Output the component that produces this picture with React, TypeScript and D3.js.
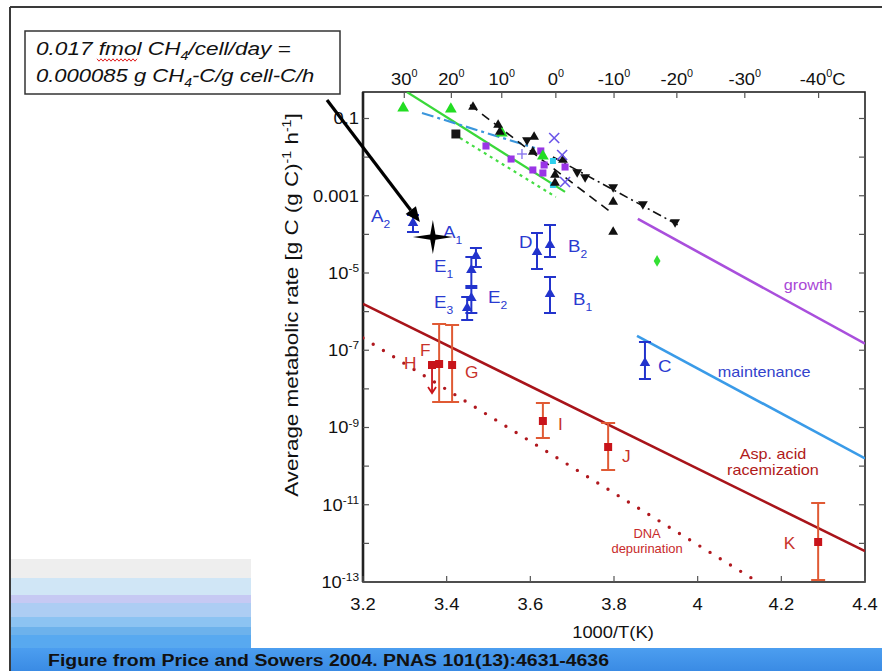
import React from 'react';
import * as d3 from 'd3';

const FONT = '"Liberation Sans", Arial, Helvetica, sans-serif';
const W = 882;
const H = 671;

// ---- axes ----
const xTicks = [3.2, 3.4, 3.6, 3.8, 4.0, 4.2, 4.4];
const xTickLabels = ['3.2', '3.4', '3.6', '3.8', '4', '4.2', '4.4'];
const yTickExponents = d3.range(-13, 0);
const yLabelExponents = [-1, -3, -5, -7, -9, -11, -13];
const celsiusTicks = [30, 20, 10, 0, -10, -20, -30, -40];

// ---- trend lines: [1000/T, log10 rate] ----
const growthLine = [[3.857, -3.6], [4.4, -6.83]];
const maintenanceLine = [[3.855, -6.63], [4.4, -9.8]];
const racemizationLine = [[3.2, -5.8], [4.4, -12.2]];
const depurinationLine = [[3.2, -6.68], [4.144, -13]];
const greenFitLine = [[3.305, -0.314], [3.683, -2.9]];
const greenDottedLine = [[3.432, -1.505], [3.661, -3.032]];
const blueDashDotLine = [[3.341, -0.858], [3.611, -1.764]];
const blackDashedLine = [[3.456, -0.65], [3.795, -3.447]];
const blackDashDotLine = [[3.654, -1.997], [3.953, -3.757]];

// ---- scattered measurements: [1000/T, log10 rate] ----
const greenTriangles = [[3.296, -0.728], [3.41, -0.754], [3.532, -1.376], [3.63, -1.971]];
const blackSquares = [[3.422, -1.401]];
const blackUpTriangles = [
  [3.463, -0.702], [3.523, -1.168], [3.527, -1.35], [3.609, -1.479], [3.606, -1.867],
  [3.659, -2.463], [3.659, -2.67], [3.678, -2.074], [3.798, -3.162], [3.798, -3.939],
];
const blackDownTriangles = [
  [3.592, -1.557], [3.712, -2.385], [3.731, -2.515], [3.798, -2.773], [3.869, -3.214], [3.946, -3.68],
];
const purpleSquares = [
  [3.494, -1.712], [3.554, -2.049], [3.606, -2.333], [3.625, -1.841], [3.633, -2.204],
  [3.63, -2.411], [3.683, -2.256],
];
const cyanSquares = [[3.654, -2.1], [3.654, -2.722]];
const violetCrosses = [[3.657, -1.505], [3.676, -1.945], [3.683, -2.644]];
const violetPluses = [[3.58, -1.919]];
const greenDiamonds = [[3.903, -4.689]];

// ---- points with error bars: [1000/T, log rate, log low, log high] ----
const bluePoints = [
  [3.3195, -3.706, -3.939, -3.498], // A2
  [3.47, -4.56, -4.845, -4.353], // E1 (upper)
  [3.459, -4.922, -5.336, -4.586], // E1
  [3.459, -5.647, -6.036, -5.388], // E2
  [3.449, -5.906, -6.217, -5.622], // E3
  [3.616, -4.456, -4.896, -3.964], // D
  [3.647, -4.275, -4.586, -3.757], // B2
  [3.647, -5.544, -6.036, -5.103], // B1
  [3.874, -7.33, -7.744, -6.786], // C
];
const redPoints = [
  [3.382, -7.356, -8.34, -6.32], // F
  [3.413, -7.382, -8.34, -6.346], // G
  [3.63, -8.832, -9.272, -8.366], // I
  [3.786, -9.505, -10.1, -8.884], // J
  [4.288, -11.964, -12.948, -10.955], // K
];
// upper limit: [1000/T, log rate, arrow end]
const upperLimits = [[3.365, -7.382, -8.107]]; // H

// ---- point labels: [letter, subscript, 1000/T, log rate] ----
const blueLabels = [
  ['A', '2', 3.219, -3.68], ['A', '1', 3.391, -4.094], ['E', '1', 3.37, -4.974],
  ['E', '3', 3.37, -5.906], ['E', '2', 3.499, -5.777], ['D', '', 3.573, -4.353],
  ['B', '2', 3.69, -4.456], ['B', '1', 3.702, -5.829], ['C', '', 3.905, -7.563],
];
const redLabels = [
  ['F', 3.336, -7.149], ['H', 3.298, -7.485], ['G', 3.444, -7.718],
  ['I', 3.666, -9.065], ['J', 3.819, -9.893], ['K', 4.206, -12.146],
];

// methane rate estimate (g CH4-C / g cell-C / h) at ~24 C
const starRate = 0.000085;
const starX = 3.367;

// ---- scales ----
const x = d3.scaleLinear().domain([3.2, 4.4]).range([363, 865]);
const y = d3.scaleLog().domain([1e-13, Math.pow(10, -0.314)]).range([582, 92]);
const yl = (l: number) => y(Math.pow(10, l));
const cToX = (c: number) => x(1000 / (c + 273.15));

const lineGen = d3.line<number[]>().x((d) => x(d[0])).y((d) => yl(d[1]));
const triUp = d3.symbol(d3.symbolTriangle, 42)()!;
const triBig = d3.symbol(d3.symbolTriangle, 60)()!;
const triBlue = d3.symbol(d3.symbolTriangle, 48)()!;
const sq = (s: number) => d3.symbol(d3.symbolSquare, s)()!;
const diamond = d3.symbol(d3.symbolDiamond, 40)()!;

function T(props: any) {
  const { x: tx, y: ty, sx = 1.08, anchor = 'start', size = 17, fill = '#111', children, ...rest } = props;
  return (
    <text
      transform={`translate(${tx},${ty}) scale(${sx},1)`}
      textAnchor={anchor}
      fontSize={size}
      fill={fill}
      fontFamily={FONT}
      {...rest}
    >
      {children}
    </text>
  );
}

function wavy(x0: number, x1: number, y0: number) {
  const pts: [number, number][] = [];
  let up = true;
  for (let px = x0; px <= x1; px += 2) {
    pts.push([px, y0 + (up ? -1.2 : 1.2)]);
    up = !up;
  }
  return d3.line()(pts)!;
}

export default function App() {
  const left = 363, right = 865, top = 92, bottom = 582;

  // star & arrow geometry
  const sx0 = x(starX);
  const sy0 = y(starRate);
  const tip = [sx0 - 13, sy0 - 15];
  const start = [327, 100];
  const ang = Math.atan2(tip[1] - start[1], tip[0] - start[0]);
  const ah = 15, aw = 6.5;
  const base = [tip[0] - ah * Math.cos(ang), tip[1] - ah * Math.sin(ang)];
  const head = [
    tip,
    [base[0] + aw * Math.sin(ang), base[1] - aw * Math.cos(ang)],
    [base[0] - aw * Math.sin(ang), base[1] + aw * Math.cos(ang)],
  ];
  const starPath = 'M0,-17 L2.6,-2.6 L20,0 L2.6,2.6 L0,17 L-2.6,2.6 L-20,0 L-2.6,-2.6 Z';

  const stripes = [
    [559, 578, '#eeeeee'],
    [578, 595, '#d0e6f6'],
    [595, 603, '#c6c9f3'],
    [603, 617, '#adcdf3'],
    [617, 627, '#8cc3f2'],
    [627, 635, '#6db2ec'],
    [635, 648, '#58a9f0'],
  ];

  return (
    <svg width={W} height={H} viewBox={`0 0 ${W} ${H}`} style={{ position: 'absolute', left: 0, top: 0, background: '#fff' }}>
      <defs>
        <clipPath id="plotClip">
          <rect x={left} y={top} width={right - left} height={bottom - top} />
        </clipPath>
        <linearGradient id="footerGrad" x1="0" y1="0" x2="0" y2="1">
          <stop offset="0" stopColor="#4c9ef0" />
          <stop offset="1" stopColor="#3a8be4" />
        </linearGradient>
      </defs>
      <rect x={0} y={0} width={W} height={H} fill="#fff" />

      {/* slide decoration */}
      {stripes.map((s, i) => (
        <rect key={i} x={11} y={s[0] as number} width={240} height={(s[1] as number) - (s[0] as number)} fill={s[2] as string} />
      ))}
      <rect x={10} y={648} width={W - 10} height={H - 648} fill="url(#footerGrad)" />
      <line x1={10} y1={7} x2={W} y2={7} stroke="#3a3a3a" strokeWidth={2} />
      <line x1={10} y1={7} x2={10} y2={H} stroke="#3a3a3a" strokeWidth={2} />
      <text x={48} y={666} fontSize={16} fontWeight="bold" fontFamily={FONT} fill="#111" textLength={561} lengthAdjust="spacingAndGlyphs">
        Figure from Price and Sowers 2004. PNAS 101(13):4631-4636
      </text>

      {/* conversion note */}
      <rect x={25} y={31} width={315} height={63} fill="#fff" stroke="#333" strokeWidth={1.5} />
      <T x={36} y={55} size={19} sx={1.19} fontStyle="italic">
        0.017 fmol CH<tspan fontSize={12} dy={5}>4</tspan>
        <tspan dy={-5}>/cell/day =</tspan>
      </T>
      <path d={wavy(97, 137, 60)} fill="none" stroke="#e02020" strokeWidth={1} />
      <T x={36} y={82} size={19} sx={1.16} fontStyle="italic">
        0.000085 g CH<tspan fontSize={12} dy={5}>4</tspan>
        <tspan dy={-5}>-C/g cell-C/h</tspan>
      </T>

      {/* frame & ticks */}
      <rect x={left} y={top} width={right - left} height={bottom - top} fill="none" stroke="#222" strokeWidth={1.6} />
      <line x1={left} y1={top} x2={left} y2={bottom} stroke="#222" strokeWidth={2.6} />
      {yTickExponents.map((e) => (
        <g key={e} stroke="#555" strokeWidth={1.2}>
          <line x1={left} x2={left + 6} y1={yl(e)} y2={yl(e)} />
          <line x1={right} x2={right - 6} y1={yl(e)} y2={yl(e)} />
        </g>
      ))}
      {xTicks.map((t) => (
        <line key={t} x1={x(t)} x2={x(t)} y1={bottom} y2={bottom - 6} stroke="#555" strokeWidth={1.2} />
      ))}
      {celsiusTicks.map((c) => (
        <line key={c} x1={cToX(c)} x2={cToX(c)} y1={top} y2={top + 6} stroke="#555" strokeWidth={1.2} />
      ))}

      {/* tick labels */}
      {yLabelExponents.map((e) => (
        <T key={e} x={359} y={yl(e) + 6} anchor="end">
          {e === -1 ? '0.1' : e === -3 ? '0.001' : (
            <>
              10<tspan fontSize={11} dy={-7}>{String(e)}</tspan>
            </>
          )}
        </T>
      ))}
      {xTicks.map((t, i) => (
        <T key={t} x={x(t)} y={610} anchor="middle">{xTickLabels[i]}</T>
      ))}
      {celsiusTicks.map((c, i) => (
        <T key={c} x={cToX(c) + (i === celsiusTicks.length - 1 ? 4 : 0)} y={85} anchor="middle">
          {String(c)}
          <tspan fontSize={10} dy={-8}>0</tspan>
          {i === celsiusTicks.length - 1 ? <tspan dy={8}>C</tspan> : null}
        </T>
      ))}
      <T x={613} y={638} anchor="middle">1000/T(K)</T>
      <text transform="translate(298,305) rotate(-90) scale(1.18,1)" textAnchor="middle" fontSize={19} fontFamily={FONT} fill="#111">
        Average metabolic rate [g C (g C)<tspan fontSize={12} dy={-7}>-1</tspan>
        <tspan dy={7}> h</tspan>
        <tspan fontSize={12} dy={-7}>-1</tspan>
        <tspan dy={7}>]</tspan>
      </text>

      {/* trend lines */}
      <g clipPath="url(#plotClip)" fill="none">
        <path d={lineGen(growthLine)!} stroke="#a94fdc" strokeWidth={2.6} />
        <path d={lineGen(maintenanceLine)!} stroke="#3a9be8" strokeWidth={2.6} />
        <path d={lineGen(racemizationLine)!} stroke="#a8141a" strokeWidth={2.6} />
        <path d={lineGen(depurinationLine)!} stroke="#b0181e" strokeWidth={3.4} strokeDasharray="0,12" strokeLinecap="round" />
        <path d={lineGen(greenFitLine)!} stroke="#3ad83a" strokeWidth={2.2} />
        <path d={lineGen(greenDottedLine)!} stroke="#44dd44" strokeWidth={2.2} strokeDasharray="3,4" />
        <path d={lineGen(blueDashDotLine)!} stroke="#3a96dc" strokeWidth={2.2} strokeDasharray="12,4,3,4" />
        <path d={lineGen(blackDashedLine)!} stroke="#111" strokeWidth={1.6} strokeDasharray="9,6" />
        <path d={lineGen(blackDashDotLine)!} stroke="#111" strokeWidth={1.6} strokeDasharray="9,4,2,4" />
      </g>

      {/* scattered measurements */}
      {blackSquares.map((d, i) => (
        <path key={'bs' + i} d={sq(80)} transform={`translate(${x(d[0])},${yl(d[1])})`} fill="#151515" />
      ))}
      {purpleSquares.map((d, i) => (
        <path key={'ps' + i} d={sq(50)} transform={`translate(${x(d[0])},${yl(d[1])})`} fill="#9a35e6" />
      ))}
      {cyanSquares.map((d, i) => (
        <path key={'cs' + i} d={sq(36)} transform={`translate(${x(d[0])},${yl(d[1])})`} fill="#2ed0ec" />
      ))}
      {greenTriangles.map((d, i) => (
        <path key={'gt' + i} d={triBig} transform={`translate(${x(d[0])},${yl(d[1])})`} fill="#22dd22" />
      ))}
      {blackUpTriangles.map((d, i) => (
        <path key={'bu' + i} d={triUp} transform={`translate(${x(d[0])},${yl(d[1])})`} fill="#111" />
      ))}
      {blackDownTriangles.map((d, i) => (
        <path key={'bd' + i} d={triUp} transform={`translate(${x(d[0])},${yl(d[1])}) rotate(180)`} fill="#111" />
      ))}
      {violetCrosses.map((d, i) => (
        <g key={'vx' + i} transform={`translate(${x(d[0])},${yl(d[1])})`} stroke="#6a55e8" strokeWidth={1.6}>
          <line x1={-5} y1={-5} x2={5} y2={5} />
          <line x1={-5} y1={5} x2={5} y2={-5} />
        </g>
      ))}
      {violetPluses.map((d, i) => (
        <g key={'vp' + i} transform={`translate(${x(d[0])},${yl(d[1])})`} stroke="#8a78ee" strokeWidth={1.4}>
          <line x1={-5} y1={0} x2={5} y2={0} />
          <line x1={0} y1={-5} x2={0} y2={5} />
        </g>
      ))}
      {greenDiamonds.map((d, i) => (
        <path key={'gd' + i} d={diamond} transform={`translate(${x(d[0])},${yl(d[1])})`} fill="#33e033" />
      ))}

      {/* blue points with error bars */}
      {bluePoints.map((d, i) => {
        const cx = x(d[0]);
        return (
          <g key={'bp' + i} stroke="#2233cc" strokeWidth={2}>
            <line x1={cx} x2={cx} y1={yl(d[2])} y2={yl(d[3])} />
            <line x1={cx - 6} x2={cx + 6} y1={yl(d[2])} y2={yl(d[2])} />
            <line x1={cx - 6} x2={cx + 6} y1={yl(d[3])} y2={yl(d[3])} />
            <path d={triBlue} transform={`translate(${cx},${yl(d[1])})`} fill="#2233cc" stroke="none" />
          </g>
        );
      })}

      {/* red points with error bars */}
      {redPoints.map((d, i) => {
        const cx = x(d[0]);
        return (
          <g key={'rp' + i}>
            <g stroke="#e05a34" strokeWidth={2}>
              <line x1={cx} x2={cx} y1={yl(d[2])} y2={yl(d[3])} />
              <line x1={cx - 7} x2={cx + 7} y1={yl(d[2])} y2={yl(d[2])} />
              <line x1={cx - 7} x2={cx + 7} y1={yl(d[3])} y2={yl(d[3])} />
            </g>
            <path d={sq(64)} transform={`translate(${cx},${yl(d[1])})`} fill="#c8141a" />
          </g>
        );
      })}
      {upperLimits.map((d, i) => {
        const cx = x(d[0]);
        const y1 = yl(d[2]);
        return (
          <g key={'ul' + i}>
            <g stroke="#c8141a" strokeWidth={1.8} fill="none">
              <line x1={cx} x2={cx} y1={yl(d[1])} y2={y1} />
              <path d={`M${cx - 4},${y1 - 6} L${cx},${y1} L${cx + 4},${y1 - 6}`} />
            </g>
            <path d={sq(64)} transform={`translate(${cx},${yl(d[1])})`} fill="#c8141a" />
          </g>
        );
      })}

      {/* point labels */}
      {blueLabels.map((l, i) => (
        <T key={'bl' + i} x={x(l[2] as number)} y={yl(l[3] as number)} size={17} sx={1.1} fill="#2a3ad0">
          {l[0]}
          {l[1] ? <tspan fontSize={11} dy={6}>{l[1]}</tspan> : null}
        </T>
      ))}
      {redLabels.map((l, i) => (
        <T key={'rl' + i} x={x(l[1] as number)} y={yl(l[2] as number)} size={16} sx={1.08} fill="#c8322a">
          {l[0]}
        </T>
      ))}

      {/* curve labels */}
      <T x={x(4.264)} y={yl(-5.44)} anchor="middle" size={15} fill="#a947d6">growth</T>
      <T x={x(4.159)} y={yl(-7.692)} anchor="middle" size={15} fill="#3343cc">maintenance</T>
      <T x={x(4.18)} y={yl(-9.816)} anchor="middle" size={15} fill="#b01a1a">Asp. acid</T>
      <T x={x(4.18)} y={yl(-10.23)} anchor="middle" size={15} fill="#b01a1a">racemization</T>
      <T x={x(3.879)} y={yl(-11.861)} anchor="middle" size={12} fill="#c82a2a">DNA</T>
      <T x={x(3.879)} y={yl(-12.249)} anchor="middle" size={12} fill="#c82a2a">depurination</T>

      {/* methane estimate & pointer */}
      <path d={starPath} transform={`translate(${sx0},${sy0})`} fill="#000" />
      <line x1={start[0]} y1={start[1]} x2={base[0]} y2={base[1]} stroke="#000" strokeWidth={3.2} />
      <polygon points={head.map((p) => p.join(',')).join(' ')} fill="#000" />
    </svg>
  );
}
